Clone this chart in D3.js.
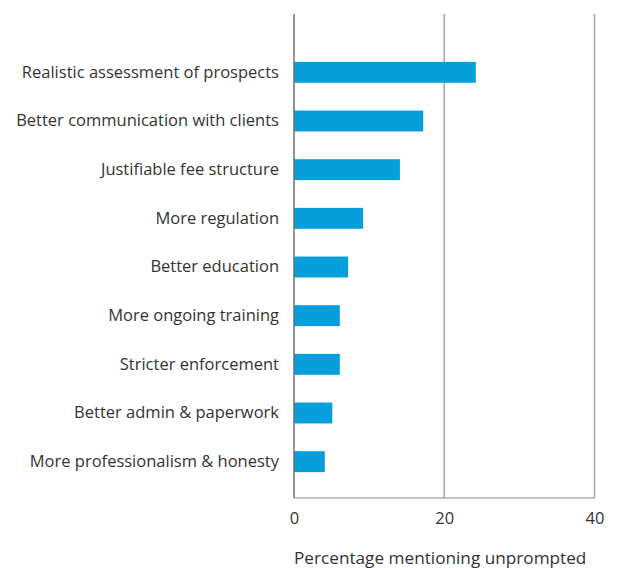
<!DOCTYPE html>
<html>
<head>
<meta charset="utf-8">
<script src="https://cdn.jsdelivr.net/npm/d3@7"></script>
<style>
  body { margin: 0; background: #fff; }
  svg text { font-family: "Open Sans", "Noto Sans", sans-serif; fill: #333; }
</style>
</head>
<body>
<svg id="chart"></svg>
<script>
let categories = [
  "Realistic assessment of prospects",
  "Better communication with clients",
  "Justifiable fee structure",
  "More regulation",
  "Better education",
  "More ongoing training",
  "Stricter enforcement",
  "Better admin & paperwork",
  "More professionalism & honesty"
];
let values = [24.2, 17.2, 14.1, 9.2, 7.2, 6.1, 6.1, 5.1, 4.1];
let xTicks = [0, 20, 40];
let xTitle = "Percentage mentioning unprompted";

function getConfig() {
  let width = 619;
  let height = 570;
  let margin = { top: 14, bottom: 72, left: 294, right: 24 };
  let bodyWidth = 300.5;
  let bodyHeight = height - margin.top - margin.bottom;
  let container = d3.select("#chart")
    .attr("width", width)
    .attr("height", height);
  return { width, height, margin, bodyWidth, bodyHeight, container };
}

function getScales(config) {
  let { bodyWidth } = config;
  let xScale = d3.scaleLinear()
    .domain([0, 40])
    .range([0, bodyWidth]);
  // bands sit inside the plot box, a bit below its top
  let yScale = d3.scaleBand()
    .domain(categories)
    .range([34, 472])
    .paddingInner(0.57)
    .paddingOuter(0.285);
  return { xScale, yScale };
}

function drawGrid(scales, config) {
  let { xScale } = scales;
  let { margin, bodyHeight, container } = config;
  let g = container.append("g")
    .attr("transform", `translate(${margin.left},${margin.top})`);
  g.selectAll(".grid")
    .data(xTicks.filter(d => d > 0))
    .enter()
    .append("line")
    .attr("x1", d => xScale(d))
    .attr("x2", d => xScale(d))
    .attr("y1", 0)
    .attr("y2", bodyHeight)
    .attr("stroke", "#a8a8a8")
    .attr("stroke-width", 1.5);
  // bottom line
  g.append("line")
    .attr("x1", 0)
    .attr("x2", xScale(40))
    .attr("y1", bodyHeight)
    .attr("y2", bodyHeight)
    .attr("stroke", "#8a8a8a")
    .attr("stroke-width", 1.2);
}

function drawBars(scales, config) {
  let { xScale, yScale } = scales;
  let { margin, container } = config;
  let body = container.append("g")
    .attr("transform", `translate(${margin.left},${margin.top})`);
  body.selectAll(".bar")
    .data(categories)
    .enter()
    .append("rect")
    .attr("x", 0)
    .attr("y", d => yScale(d))
    .attr("height", yScale.bandwidth())
    .attr("width", (d, i) => xScale(values[i]))
    .attr("fill", "#069fdc");
}

function drawAxes(scales, config) {
  let { xScale, yScale } = scales;
  let { margin, bodyHeight, container } = config;

  let axisY = d3.axisLeft(yScale).tickSize(0).tickPadding(15);
  let gY = container.append("g")
    .attr("transform", `translate(${margin.left},${margin.top})`)
    .call(axisY);
  gY.select(".domain").remove();
  gY.selectAll("text")
    .style("font-size", "16.5px")
    .attr("fill", "#333");
  // vertical zero line
  gY.append("line")
    .attr("x1", 0).attr("x2", 0)
    .attr("y1", 0).attr("y2", bodyHeight)
    .attr("stroke", "#6e6e6e")
    .attr("stroke-width", 1.5);

  let axisX = d3.axisBottom(xScale).tickValues(xTicks).tickSize(0).tickPadding(14);
  let gX = container.append("g")
    .attr("transform", `translate(${margin.left},${margin.top + bodyHeight})`)
    .call(axisX);
  gX.select(".domain").remove();
  gX.selectAll("text")
    .style("font-size", "16.5px")
    .attr("fill", "#333");

  container.append("text")
    .attr("x", margin.left)
    .attr("y", 564)
    .style("font-size", "17.2px")
    .text(xTitle);
}

let config = getConfig();
let scales = getScales(config);
drawGrid(scales, config);
drawBars(scales, config);
drawAxes(scales, config);
</script>
</body>
</html>
